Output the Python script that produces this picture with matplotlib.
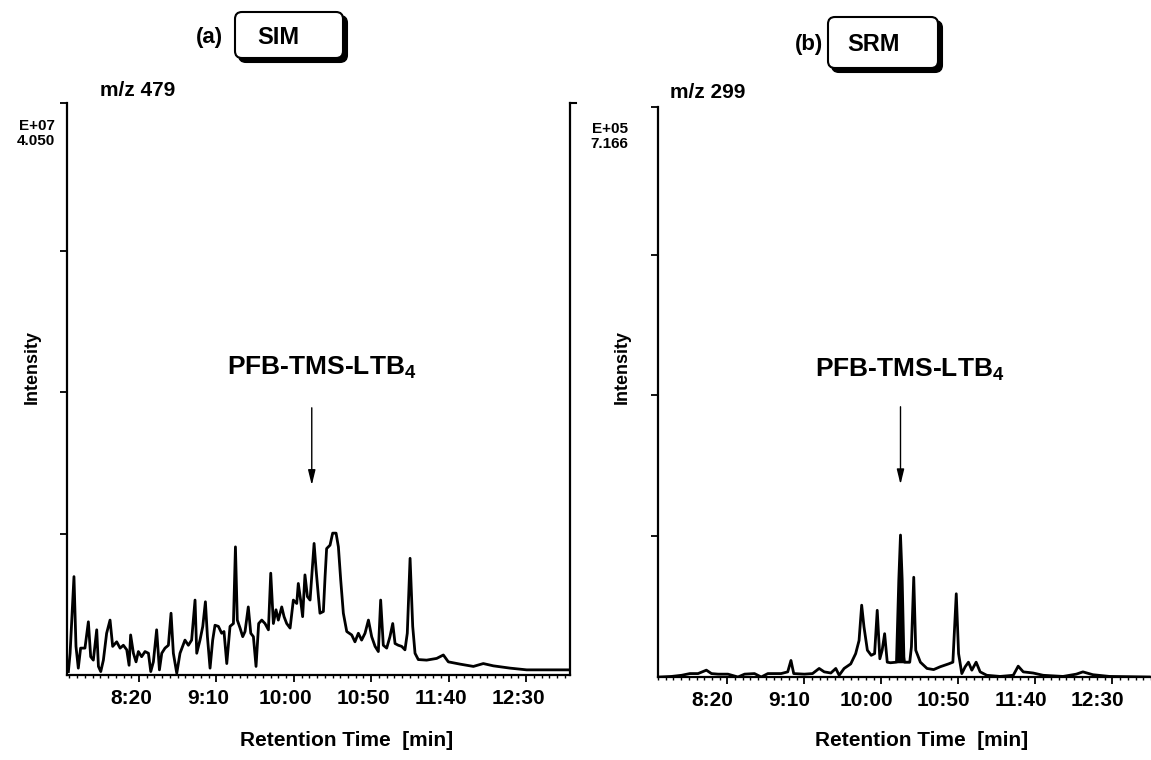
import matplotlib
matplotlib.use("Agg")
import matplotlib.pyplot as plt
import numpy as np
from matplotlib.patches import FancyBboxPatch
from matplotlib.transforms import IdentityTransform, ScaledTranslation

plt.rcParams['font.family'] = ['Liberation Sans', 'DejaVu Sans']
plt.rcParams['font.weight'] = 'bold'
plt.rcParams['mathtext.fontset'] = 'custom'
plt.rcParams['mathtext.rm'] = 'Liberation Sans:bold'
plt.rcParams['mathtext.bf'] = 'Liberation Sans:bold'

# retention time (s) and intensity (% of full scale)
sim_time = [454.4, 455.5, 458.0, 459.3, 460.8, 462.3, 465.1, 467.3, 468.8, 470.5,
            472.7, 473.8, 475.3, 477.0, 479.1, 481.3, 483.0, 485.6, 487.8, 489.9,
            492.1, 493.6, 494.6, 496.4, 498.1, 499.6, 501.7, 503.9, 506.1, 507.6,
            509.3, 511.4, 513.2, 514.7, 516.8, 519.0, 520.7, 522.2, 524.4, 526.5,
            529.7, 531.9, 534.0, 536.2, 537.3, 539.4, 541.2, 542.9, 544.2, 545.9,
            547.6, 549.1, 551.3, 553.4, 554.9, 556.7, 558.8, 561.0, 562.3, 563.5,
            565.3, 567.0, 568.5, 570.6, 572.2, 573.9, 575.6, 577.3, 579.3, 581.4,
            583.6, 585.1, 586.8, 588.5, 590.0, 592.2, 593.7, 595.4, 597.6, 599.7,
            601.9, 602.9, 604.4, 605.7, 607.2, 608.8, 610.5, 611.6, 613.1, 614.4,
            615.9, 616.9, 619.1, 620.2, 621.2, 623.4, 625.1, 627.3, 628.8, 630.3,
            632.0, 634.2, 637.4, 639.5, 641.7, 643.8, 646.0, 648.2, 650.3, 652.5,
            654.6, 656.1, 657.8, 660.0, 662.1, 663.9, 665.4, 667.5, 669.7, 671.8,
            673.3, 675.1, 676.8, 678.3, 680.4, 685.8, 692.3, 696.6, 699.8, 707.4,
            716.0, 722.4, 728.9, 739.7, 750.4, 761.2, 777.3]
sim_int = [0.6, 3.8, 17.2, 5.0, 1.2, 4.7, 4.7, 9.3, 3.2, 2.6,
           7.9, 1.5, 0.6, 2.6, 7.3, 9.6, 5.0, 5.8, 4.7, 5.2,
           4.4, 1.7, 7.0, 3.8, 2.3, 4.1, 3.2, 4.1, 3.8, 0.6,
           2.3, 7.9, 0.9, 3.8, 4.7, 5.2, 10.8, 3.8, 0.3, 3.8,
           6.1, 5.2, 6.1, 13.1, 3.8, 6.1, 8.5, 12.8, 6.7, 1.2,
           6.1, 8.7, 8.5, 7.3, 7.6, 2.0, 8.5, 9.0, 22.4, 9.6,
           8.2, 6.7, 7.6, 11.9, 7.3, 6.7, 1.5, 9.0, 9.6, 9.0,
           7.9, 17.8, 9.0, 11.4, 9.6, 11.9, 10.2, 9.0, 8.2, 13.1,
           12.5, 16.0, 13.1, 10.2, 17.5, 13.7, 13.1, 17.2, 23.0, 18.4,
           13.7, 10.8, 11.1, 17.2, 22.1, 22.7, 24.8, 24.8, 22.4, 16.6,
           10.8, 7.6, 7.0, 5.8, 7.3, 6.1, 7.3, 9.6, 6.7, 5.0,
           4.1, 13.1, 5.2, 4.7, 6.7, 9.0, 5.5, 5.2, 5.0, 4.4,
           7.3, 20.4, 8.5, 3.8, 2.7, 2.6, 2.9, 3.5, 2.3, 1.9,
           1.5, 2.0, 1.6, 1.2, 0.9, 0.9, 0.9]

srm_time = [456.3, 463.8, 470.3, 475.7, 481.0, 486.4, 489.7, 494.0, 500.4, 506.9,
            511.2, 517.6, 522.0, 526.3, 534.9, 539.2, 541.3, 543.1, 550.0, 555.3,
            559.6, 562.9, 567.2, 570.4, 572.6, 575.8, 580.1, 583.3, 585.5, 587.2,
            588.7, 590.9, 593.4, 595.6, 597.3, 599.0, 600.5, 602.1, 603.8, 605.9,
            609.8, 611.3, 612.4, 613.5, 614.6, 615.0, 618.4, 619.5, 621.0, 622.3,
            625.3, 629.6, 633.9, 638.2, 643.6, 646.4, 648.6, 650.1, 652.2, 654.4,
            656.5, 658.7, 661.5, 664.1, 668.4, 677.0, 685.6, 688.8, 692.1, 698.5,
            705.0, 717.9, 726.5, 730.8, 737.3, 748.1, 773.9]
srm_int = [0.0, 0.1, 0.3, 0.6, 0.6, 1.2, 0.6, 0.5, 0.5, 0.0,
           0.5, 0.6, 0.0, 0.6, 0.6, 0.9, 2.9, 0.6, 0.5, 0.6,
           1.5, 0.9, 0.7, 1.5, 0.3, 1.5, 2.3, 4.1, 6.4, 12.6,
           8.8, 4.7, 3.8, 4.1, 11.7, 3.2, 4.7, 7.6, 2.6, 2.5,
           2.6, 17.0, 24.9, 17.0, 3.5, 2.6, 2.6, 5.3, 17.5, 4.7,
           2.6, 1.5, 1.3, 1.8, 2.3, 2.6, 14.6, 4.1, 0.6, 1.8,
           2.6, 1.2, 2.6, 0.9, 0.3, 0.1, 0.3, 1.9, 0.9, 0.7,
           0.3, 0.1, 0.5, 0.9, 0.4, 0.1, 0.0]

tick_sec = [500, 550, 600, 650, 700, 750]
tick_lab = ['8:20', '9:10', '10:00', '10:50', '11:40', '12:30']
peak_rt = 612          # PFB-TMS-LTB4
fill_range = (609.8, 618.4)
fill_base = 2.5

W, H = 1151, 760
fig = plt.figure(figsize=(W / 100, H / 100), dpi=100)


def px(x, y):
    return x / W, 1 - y / H


def setup(ax, xlim, lab_shift):
    ax.set_xlim(*xlim)
    ax.set_ylim(0, 100)
    ax.set_xticks(tick_sec)
    ax.set_xticklabels(tick_lab, fontsize=15, fontweight='bold')
    ax.set_xticks(np.arange(455, 780, 5), minor=True)
    ax.set_yticks([24.7, 49.4, 74.1, 100])
    ax.set_yticklabels([])
    ax.tick_params(axis='x', which='major', direction='out', length=5, width=1.3, pad=5)
    ax.tick_params(axis='x', which='minor', direction='out', length=2.5, width=1.0)
    ax.tick_params(axis='y', direction='out', length=5, width=1.3)
    ax.spines['top'].set_visible(False)
    for s in ax.spines.values():
        s.set_linewidth(1.6)
    off = ScaledTranslation(lab_shift / 100, 0, fig.dpi_scale_trans)
    for lab in ax.get_xticklabels():
        lab.set_transform(lab.get_transform() + off)


# (a) SIM
x0, y0 = px(67, 675)
ax1 = fig.add_axes([x0, y0, 503 / W, 572 / H])
ax1.plot(sim_time, sim_int, color='black', lw=2.0)
setup(ax1, (453.5, 778.4), -8)
ax1.plot([1.0, 1.012], [1, 1], transform=ax1.transAxes, color='black', lw=1.5, clip_on=False)
ax1.annotate('', xy=(peak_rt - 0.4, 32.7), xytext=(peak_rt - 0.4, 47.2),
             arrowprops=dict(arrowstyle='-|>,head_length=0.9,head_width=0.22', color='black', lw=1.0))
ax1.text(618.2, 53.7, r'PFB-TMS-LTB$_\mathbf{4}$', ha='center', va='center', fontsize=19, fontweight='bold')

# (b) SRM
x0, y0 = px(658, 677)
ax2 = fig.add_axes([x0, y0, (W - 658) / W, 570 / H])
ax2.plot(srm_time, srm_int, color='black', lw=2.0)
t = np.array(srm_time)
m = (t >= fill_range[0]) & (t <= fill_range[1])
ax2.fill_between(t[m], fill_base, np.array(srm_int)[m], color='black', lw=0)
setup(ax2, (456.1, 774.5), -15)
ax2.spines['right'].set_visible(False)
ax2.annotate('', xy=(peak_rt + 0.4, 33.3), xytext=(peak_rt + 0.4, 47.9),
             arrowprops=dict(arrowstyle='-|>,head_length=0.9,head_width=0.22', color='black', lw=1.0))
ax2.text(618.2, 53.9, r'PFB-TMS-LTB$_\mathbf{4}$', ha='center', va='center', fontsize=19, fontweight='bold')

# labels around the panels
for xc in (347, 922):
    fig.text(*px(xc, 740), 'Retention Time  [min]', ha='center', va='center', fontsize=15, fontweight='bold')
for xc in (32, 622):
    fig.text(*px(xc, 367), 'Intensity', ha='center', va='center', rotation=90, fontsize=13, fontweight='bold')
fig.text(*px(100, 91), 'm/z 479', ha='left', va='center', fontsize=15, fontweight='bold')
fig.text(*px(670, 92), 'm/z 299', ha='left', va='center', fontsize=15, fontweight='bold')
fig.text(*px(55, 126), 'E+07', ha='right', va='center', fontsize=11, fontweight='bold')
fig.text(*px(55, 141), '4.050', ha='right', va='center', fontsize=11, fontweight='bold')
fig.text(*px(628, 129), 'E+05', ha='right', va='center', fontsize=11, fontweight='bold')
fig.text(*px(628, 144), '7.166', ha='right', va='center', fontsize=11, fontweight='bold')

# title boxes with shadow
for (bx0, bx1, top, bot, lab, lx, tag, tx) in [(235, 343, 12, 58, 'SIM', 278, '(a)', 209),
                                                (828, 938, 17, 68, 'SRM', 874, '(b)', 809)]:
    w, h = bx1 - bx0, bot - top
    shadow = FancyBboxPatch((bx0 + 4, H - bot - 4), w, h, boxstyle='round,pad=0,rounding_size=7',
                            transform=IdentityTransform(), facecolor='black', edgecolor='black', lw=1.5)
    box = FancyBboxPatch((bx0, H - bot), w, h, boxstyle='round,pad=0,rounding_size=7',
                         transform=IdentityTransform(), facecolor='white', edgecolor='black', lw=1.5)
    fig.add_artist(shadow)
    fig.add_artist(box)
    fig.text(*px(lx, (top + bot) / 2 + 2), lab, ha='center', va='center', fontsize=17, fontweight='bold')
    fig.text(*px(tx, (top + bot) / 2 + 2), tag, ha='center', va='center', fontsize=16, fontweight='bold')

fig.savefig('out.png', dpi=100)
